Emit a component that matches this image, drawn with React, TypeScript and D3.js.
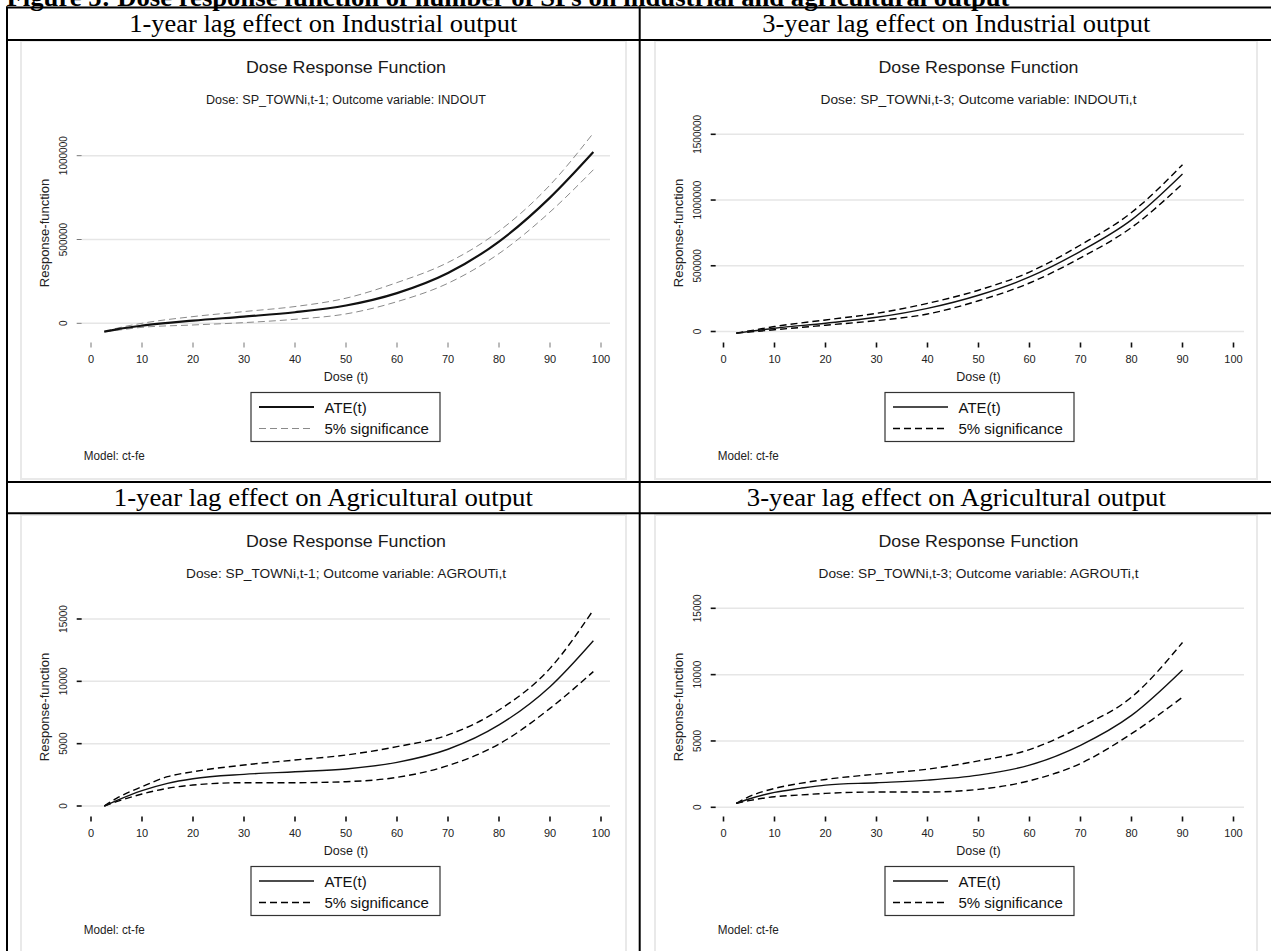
import React from 'react';
import * as d3 from 'd3';

const W = 1271;
const H = 951;

// dose grid and estimated curves
const dose1 = [2.6, 5, 10, 20, 30, 40, 50, 60, 70, 80, 90, 98.5];
const ate1 = [-50000, -36000, -14000, 16000, 40000, 66000, 106000, 180000, 300000, 488000, 750000, 1022000];
const up1 = [-50000, -30000, 0, 40000, 70000, 100000, 150000, 243000, 363000, 550000, 825000, 1135000];
const lo1 = [-50000, -42000, -24000, -10000, 4000, 24000, 56000, 129000, 239000, 416000, 664000, 916000];

const dose2 = [2.5, 5, 10, 20, 30, 40, 50, 60, 70, 80, 90];
const ate2 = [-12600, 0, 25000, 63000, 108000, 176000, 276000, 415000, 610000, 849000, 1198000];
const up2 = [-12600, 4000, 38000, 88000, 138000, 214000, 314000, 452000, 658000, 905000, 1269000];
const lo2 = [-12600, -4000, 13000, 48000, 83000, 133000, 234000, 369000, 560000, 791000, 1123000];

const dose3 = [2.6, 5, 10, 15, 20, 30, 40, 50, 60, 70, 80, 90, 98.5];
const ate3 = [0, 430, 1230, 1820, 2190, 2540, 2750, 2970, 3500, 4550, 6500, 9570, 13260];
const up3 = [0, 615, 1550, 2350, 2750, 3290, 3690, 4090, 4760, 5700, 7700, 11040, 15720];
const lo3 = [0, 350, 960, 1420, 1680, 1870, 1870, 1950, 2300, 3240, 4970, 7830, 10780];

const dose4 = [2.5, 5, 10, 15, 20, 30, 40, 50, 60, 70, 80, 90];
const ate4 = [300, 625, 1125, 1425, 1675, 1850, 2050, 2425, 3175, 4675, 6925, 10350];
const up4 = [300, 800, 1425, 1800, 2100, 2500, 2875, 3500, 4350, 6050, 8300, 12425];
const lo4 = [300, 500, 800, 925, 1050, 1150, 1150, 1350, 2000, 3300, 5550, 8300];

const xTicks = [0, 10, 20, 30, 40, 50, 60, 70, 80, 90, 100];
const yTicksInd1 = [0, 500000, 1000000];
const yTicksInd3 = [0, 500000, 1000000, 1500000];
const yTicksAgr = [0, 5000, 10000, 15000];

const figTitle = 'Figure 5: Dose response function of number of SPs on industrial and agricultural output';
const headers = [
  '1-year lag effect on Industrial output',
  '3-year lag effect on Industrial output',
  '1-year lag effect on Agricultural output',
  '3-year lag effect on Agricultural output',
];
const subtitles = [
  'Dose: SP_TOWNi,t-1; Outcome variable: INDOUT',
  'Dose: SP_TOWNi,t-3; Outcome variable: INDOUTi,t',
  'Dose: SP_TOWNi,t-1; Outcome variable: AGROUTi,t',
  'Dose: SP_TOWNi,t-3; Outcome variable: AGROUTi,t',
];

const SANS = '"Liberation Sans", Arial, sans-serif';
const SERIF = '"Liberation Serif", "Times New Roman", serif';

const panels = [
  { x: 21, y: 41, w: 605, h: 438, sub: subtitles[0], subW: 280, subSize: 12.5, dose: dose1, ate: ate1, up: up1, lo: lo1, ticks: yTicksInd1, top: 1000000, py0: 282.3, pyTop: 114.7, gray: true },
  { x: 655, y: 41, w: 602, h: 438, sub: subtitles[1], subW: 316, subSize: 13.2, dose: dose2, ate: ate2, up: up2, lo: lo2, ticks: yTicksInd3, top: 1500000, py0: 290.5, pyTop: 93.3, gray: false },
  { x: 21, y: 515, w: 605, h: 440, sub: subtitles[2], subW: 320, subSize: 13.2, dose: dose3, ate: ate3, up: up3, lo: lo3, ticks: yTicksAgr, top: 15000, py0: 291, pyTop: 104, gray: false },
  { x: 655, y: 515, w: 602, h: 440, sub: subtitles[3], subW: 320, subSize: 13.2, dose: dose4, ate: ate4, up: up4, lo: lo4, ticks: yTicksAgr, top: 15000, py0: 292.3, pyTop: 93.3, gray: false },
];

type P = typeof panels[number];

const Panel = ({ p, left }: { p: P; left: boolean }) => {
  const x = d3.scaleLinear().domain([0, 100]).range(left ? [70, 580] : [68.5, 578.5]);
  const y = d3.scaleLinear().domain([0, p.top]).range([p.py0, p.pyTop]);
  const line = d3.line<number>()
    .x((_, i) => x(p.dose[i]))
    .y((d) => y(d))
    .curve(d3.curveMonotoneX);
  const cx = (x(0) + x(100)) / 2;
  const ciColor = p.gray ? '#8a8a8a' : '#000';
  const ciWidth = p.gray ? 1 : 1.4;
  const ciDash = '7 4';
  const ateWidth = p.gray ? 2.2 : 1.4;
  const tickColor = p.gray ? '#777' : '#111';
  const tickWidth = p.gray ? 1 : 1.6;

  return (
    <g transform={`translate(${p.x},${p.y})`}>
      <rect x={0} y={0} width={p.w} height={p.h} fill="#fff" stroke="#e9e9e9" strokeWidth={2} />
      <text x={cx} y={32} textAnchor="middle" fontFamily={SANS} fontSize={17} fill="#1a1a1a"
        textLength={200} lengthAdjust="spacingAndGlyphs">Dose Response Function</text>
      <text x={cx} y={63} textAnchor="middle" fontFamily={SANS} fontSize={p.subSize} fill="#1a1a1a"
        textLength={p.subW} lengthAdjust="spacingAndGlyphs">{p.sub}</text>

      {p.ticks.map((t) => (
        <g key={t}>
          <line x1={61} x2={589} y1={y(t)} y2={y(t)} stroke="#e6e6e6" strokeWidth={1.5} />
          <line x1={55.7} x2={60.7} y1={y(t)} y2={y(t)} stroke={tickColor} strokeWidth={tickWidth} />
          <text transform={`translate(42.5,${y(t)}) rotate(-90)`} textAnchor="middle" dominantBaseline="central"
            fontFamily={SANS} fontSize={10} fill="#222">{t}</text>
        </g>
      ))}
      <text transform={`translate(23,192) rotate(-90)`} textAnchor="middle" dominantBaseline="central"
        fontFamily={SANS} fontSize={13} fill="#222">Response-function</text>

      {xTicks.map((t) => (
        <g key={t}>
          <line x1={x(t)} x2={x(t)} y1={301.5} y2={306.5} stroke={tickColor} strokeWidth={tickWidth} />
          <text x={x(t)} y={321.5} textAnchor="middle" fontFamily={SANS} fontSize={11} fill="#222">{t}</text>
        </g>
      ))}
      <text x={cx} y={339.5} textAnchor="middle" fontFamily={SANS} fontSize={12.5} fill="#1a1a1a">Dose (t)</text>

      <path d={line(p.up) ?? ''} fill="none" stroke={ciColor} strokeWidth={ciWidth} strokeDasharray={ciDash} />
      <path d={line(p.lo) ?? ''} fill="none" stroke={ciColor} strokeWidth={ciWidth} strokeDasharray={ciDash} />
      <path d={line(p.ate) ?? ''} fill="none" stroke="#111" strokeWidth={ateWidth} />

      <rect x={230} y={351.5} width={189} height={49} fill="#fff" stroke="#333" strokeWidth={1.2} />
      <line x1={238} x2={293} y1={366} y2={366} stroke="#111" strokeWidth={ateWidth} />
      <line x1={238} x2={293} y1={387.5} y2={387.5} stroke={ciColor} strokeWidth={ciWidth} strokeDasharray={ciDash} />
      <text x={303.5} y={371.5} fontFamily={SANS} fontSize={15} fill="#111">ATE(t)</text>
      <text x={303.5} y={393} fontFamily={SANS} fontSize={15} fill="#111">5% significance</text>

      <text x={62.7} y={419} fontFamily={SANS} fontSize={12} fill="#222"
        textLength={61} lengthAdjust="spacingAndGlyphs">Model: ct-fe</text>
    </g>
  );
};

export default function App() {
  const colL = 7;
  const colM = 639.7;
  const colR = 1273;
  const rows = [7.5, 40, 482, 513.2, 953];
  return (
    <svg width={W} height={H} style={{ position: 'absolute', left: 0, top: 0, background: '#fff' }}>
      <text x={6.5} y={5.5} fontFamily={SERIF} fontWeight="bold" fontSize={25} fill="#000"
        textLength={1003} lengthAdjust="spacingAndGlyphs">{figTitle}</text>

      {panels.map((p, i) => <Panel key={i} p={p} left={i % 2 === 0} />)}

      {rows.map((r) => (
        <line key={r} x1={colL - 1} x2={colR} y1={r} y2={r} stroke="#000" strokeWidth={2} />
      ))}
      {[colL, colM, colR].map((c) => (
        <line key={c} x1={c} x2={c} y1={rows[0] - 1} y2={H + 2} stroke="#000" strokeWidth={2} />
      ))}

      {headers.map((h, i) => {
        const cx = i % 2 === 0 ? (colL + colM) / 2 : (colM + colR) / 2;
        const cy = i < 2 ? (rows[0] + rows[1]) / 2 : (rows[2] + rows[3]) / 2;
        return (
          <text key={h} x={cx} y={cy + 8} textAnchor="middle" fontFamily={SERIF} fontSize={25} fill="#000"
            textLength={i < 2 ? 388 : 419} lengthAdjust="spacingAndGlyphs">{h}</text>
        );
      })}
    </svg>
  );
}
